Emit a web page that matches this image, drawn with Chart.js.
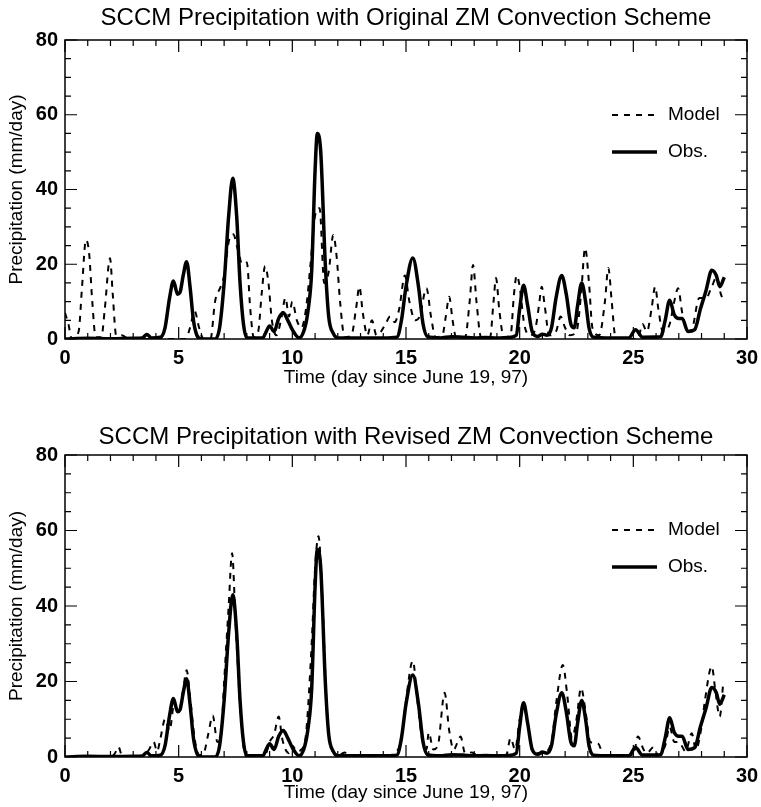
<!DOCTYPE html>
<html>
<head>
<meta charset="utf-8">
<script src="https://cdn.jsdelivr.net/npm/chart.js@4.4.1/dist/chart.umd.min.js"></script>
<style>
  html, body { margin: 0; padding: 0; background: #fff; }
  canvas { display: block; }
</style>
</head>
<body>
<canvas id="chartTop" width="761" height="400"></canvas>
<canvas id="chartBottom" width="761" height="407"></canvas>
<script>
// tick labels
const dayTicks = [0, 5, 10, 15, 20, 25, 30];
const precipTicks = [0, 20, 40, 60, 80];

// observed precipitation (same in both panels)
const obsDays = [0, 1, 2, 3, 3.4, 3.6, 3.8, 4.2, 4.4, 4.6, 4.77, 4.95, 5.06, 5.2, 5.35, 5.5, 5.65, 5.8, 6.0,
  6.6, 6.8, 7.0, 7.2, 7.38, 7.55, 7.7, 7.85, 8.0, 8.7, 8.85, 9.0, 9.2, 9.4, 9.6, 9.8, 10.0, 10.3,
  10.55, 10.7, 10.85, 11.0, 11.1, 11.25, 11.45, 11.6, 11.8, 12.0, 13, 14, 14.6, 14.8, 15.0, 15.3,
  15.55, 15.75, 15.95, 16.5, 17, 17.5, 18, 18.5, 19, 19.5, 19.85, 20.0, 20.17, 20.35, 20.55, 20.8,
  21.0, 21.2, 21.4, 21.6, 21.85, 22.05, 22.25, 22.4, 22.55, 22.73, 22.9, 23.05, 23.25, 24, 24.8,
  25.1, 25.4, 26.2, 26.4, 26.6, 26.8, 27.0, 27.15, 27.4, 27.7, 27.95, 28.2, 28.45, 28.65, 28.8, 29.0];
const obsPrecip = [0, 0.2, 0.1, 0.2, 0.3, 1.2, 0.3, 0.5, 3, 11, 15.5, 12, 12.5, 17, 20.7, 14, 5, 1, 0,
  0, 3, 15, 33, 43, 33, 15, 4, 0.3, 0.3, 2, 3.5, 2, 5.5, 7, 5, 2.5, 0.3,
  3, 8, 18, 45, 55, 50, 20, 6, 1.5, 0.3, 0.3, 0.3, 0.5, 5, 14, 21.7,
  14, 4, 0.6, 0.3, 0.6, 0.5, 0.3, 0.4, 0.3, 0.4, 1, 8, 14.4, 9, 2, 0.7,
  1.3, 1, 3, 11, 17, 12, 4, 3, 9, 15, 10, 3, 0.5, 0.3, 0.3,
  2.5, 0.5, 0.6, 5, 10.4, 6.5, 5.5, 5.5, 2, 2.5, 8, 13, 18.4, 17, 14, 16.5];

// model, original ZM scheme
const origDays = [0, 0.15, 0.3, 0.6, 0.75, 0.92, 1.06, 1.2, 1.35, 1.6, 1.75, 1.98, 2.1, 2.25, 2.5, 2.8, 4.0,
  5.3, 5.5, 5.7, 5.9, 6.1, 6.4, 6.6, 6.85, 7.0, 7.2, 7.4, 7.6, 7.8, 8.0, 8.15, 8.3, 8.5, 8.65, 8.8,
  8.95, 9.1, 9.3, 9.5, 9.7, 9.85, 10.0, 10.2, 10.4, 10.6, 10.8, 11.0, 11.2, 11.4, 11.6, 11.8, 11.95,
  12.1, 12.3, 12.6, 12.8, 12.95, 13.1, 13.3, 13.5, 13.7, 13.9, 14.1, 14.3, 14.5, 14.7, 14.95, 15.15,
  15.4, 15.6, 15.9, 16.1, 16.3, 16.6, 16.75, 16.9, 17.05, 17.2, 17.6, 17.8, 17.95, 18.1, 18.3, 18.7,
  18.85, 18.96, 19.1, 19.3, 19.6, 19.75, 19.87, 20.0, 20.2, 20.45, 20.7, 20.85, 20.97, 21.1, 21.3,
  21.6, 21.8, 22.0, 22.2, 22.5, 22.7, 22.88, 23.05, 23.2, 23.5, 23.75, 23.9, 24.05, 24.2, 24.5, 25.2,
  25.4, 25.6, 25.8, 25.96, 26.1, 26.3, 26.6, 26.8, 26.97, 27.15, 27.4, 27.6, 27.9, 28.2, 28.45, 28.67,
  28.85, 29.0];
const origPrecip = [7, 4, 0, 2, 14, 26.5, 23, 10, 0.5, 0.5, 8, 21.6, 12, 1, 1, 0, 0,
  0, 3, 7.5, 3, 0, 0, 10, 14, 17, 26, 28, 24, 20, 20.5, 8, 0.5, 2, 12, 19.5,
  15, 5, 1, 5, 11, 6, 10, 5, 3, 8, 20, 33, 35, 15, 18, 27.8, 22,
  10, 0.5, 1, 8, 14, 7, 1, 5, 1, 2, 4, 6, 4.5, 8, 17, 10,
  5, 6, 13.6, 6, 0.5, 1, 6, 11.3, 5, 0.5, 0.5, 10, 19.8, 10, 0.5, 0.5,
  10, 16.3, 8, 0.5, 1, 12, 17, 14, 4, 1, 3, 9, 14, 9, 1,
  2, 6, 3, 1, 2, 12, 24.3, 15, 3, 1, 10, 19, 10, 1, 0, 0,
  4, 2, 8, 14, 8, 2, 4, 10, 13.6, 7, 2, 3, 11, 11, 14, 16.6,
  12, 10];

// model, revised ZM scheme
const revDays = [0, 1, 2.0, 2.2, 2.35, 2.5, 3.0, 3.5, 3.7, 3.9, 4.05, 4.2, 4.4, 4.6, 4.8, 5.0, 5.2, 5.35,
  5.5, 5.7, 5.9, 6.1, 6.3, 6.5, 6.7, 6.85, 7.0, 7.2, 7.35, 7.5, 7.7, 7.85, 8.0, 8.8, 9.0, 9.2, 9.4,
  9.55, 9.7, 9.85, 10.0, 10.2, 10.4, 10.6, 10.85, 11.0, 11.15, 11.3, 11.5, 11.65, 11.85, 12.0, 12.3,
  12.5, 13, 14, 14.5, 14.8, 15.0, 15.3, 15.5, 15.7, 15.9, 16.0, 16.2, 16.4, 16.7, 16.9, 17.1, 17.4,
  17.6, 17.9, 18.2, 19.4, 19.6, 19.8, 20.0, 20.17, 20.35, 20.6, 21.0, 21.4, 21.6, 21.9, 22.1, 22.3,
  22.5, 22.7, 22.9, 23.1, 23.45, 23.7, 25.0, 25.2, 25.45, 25.6, 25.87, 26.1, 26.4, 26.6, 26.8, 27.0,
  27.3, 27.57, 27.75, 28.0, 28.15, 28.45, 28.6, 28.8, 28.96];
const revPrecip = [0, 0.3, 0, 1, 2.7, 0.5, 0, 0.5, 2, 4, 1.5, 5, 10, 7, 14, 12, 18, 23,
  16, 5, 0.5, 1, 6, 11, 4, 5, 20, 40, 54, 36, 14, 3, 0, 0.5, 4, 6, 10.7,
  5, 2, 1, 3, 1.5, 2, 6, 30, 50, 58.5, 45, 15, 4, 1, 0.3, 1.2,
  0.2, 0.3, 0.3, 1, 5, 15, 25.5, 15, 5, 2, 6.5, 2, 3, 17, 7, 2, 5.4,
  1, 1.2, 0.2, 0.3, 5, 2, 10, 14, 9, 1, 1, 4, 14, 24.4, 16, 5,
  10, 18.3, 12, 4, 3.5, 0.5, 0.5, 5.4, 2, 1, 2.5, 0.5, 3, 8, 4, 4,
  1.5, 6.3, 2, 8, 15, 24, 18, 10.7, 20];

const pts = (xs, ys) => xs.map((d, i) => ({ x: d, y: ys[i] }));
const FONT = '"Liberation Sans", Arial, Helvetica, sans-serif';

// box, inward major/minor ticks on all four sides
const frameTicks = {
  id: 'frameTicks',
  afterDatasetsDraw(chart) {
    const { ctx, chartArea: a, scales: { x, y } } = chart;
    ctx.save();
    ctx.strokeStyle = '#000';
    ctx.lineWidth = 1.5;
    ctx.strokeRect(a.left, a.top, a.right - a.left, a.bottom - a.top);
    ctx.lineWidth = 1.2;
    ctx.beginPath();
    for (let d = 0; d <= 30; d++) {
      const px = x.getPixelForValue(d);
      const len = d % 5 === 0 ? 12 : 6;
      ctx.moveTo(px, a.bottom); ctx.lineTo(px, a.bottom - len);
      ctx.moveTo(px, a.top); ctx.lineTo(px, a.top + len);
    }
    for (let v = 0; v <= 80; v += 5) {
      const py = y.getPixelForValue(v);
      const len = v % 20 === 0 ? 12 : 6;
      ctx.moveTo(a.left, py); ctx.lineTo(a.left + len, py);
      ctx.moveTo(a.right, py); ctx.lineTo(a.right - len, py);
    }
    ctx.stroke();
    ctx.restore();
  }
};

// title centred over the plot area
const panelTitle = {
  id: 'panelTitle',
  afterDraw(chart, args, opts) {
    const { ctx, chartArea: a } = chart;
    ctx.save();
    ctx.fillStyle = '#000';
    ctx.font = '24px ' + FONT;
    ctx.textAlign = 'center';
    ctx.textBaseline = 'middle';
    ctx.fillText(opts.text, (a.left + a.right) / 2, a.top - opts.gap);
    ctx.restore();
  }
};

// legend inside the plot, upper right
const insideLegend = {
  id: 'insideLegend',
  afterDraw(chart) {
    const { ctx, chartArea: a } = chart;
    const rows = [chart.data.datasets[1], chart.data.datasets[0]];
    ctx.save();
    rows.forEach((ds, i) => {
      const yy = a.top + 75 + i * 37;
      ctx.strokeStyle = '#000';
      ctx.lineWidth = ds.borderWidth;
      ctx.setLineDash(ds.borderDash || []);
      ctx.beginPath();
      ctx.moveTo(a.right - 135, yy);
      ctx.lineTo(a.right - 90, yy);
      ctx.stroke();
      ctx.setLineDash([]);
      ctx.fillStyle = '#000';
      ctx.font = '19px ' + FONT;
      ctx.textAlign = 'left';
      ctx.textBaseline = 'middle';
      ctx.fillText(ds.label, a.right - 79, yy);
    });
    ctx.restore();
  }
};

function makePanel(id, title, modelDays, modelPrecip, lay) {
  new Chart(document.getElementById(id), {
    type: 'line',
    data: {
      datasets: [
        {
          label: 'Obs.',
          data: pts(obsDays, obsPrecip),
          borderColor: '#000',
          borderWidth: 3.5,
          pointRadius: 0,
          cubicInterpolationMode: 'monotone',
          order: 0
        },
        {
          label: 'Model',
          data: pts(modelDays, modelPrecip),
          borderColor: '#000',
          borderWidth: 2,
          borderDash: [6, 6],
          pointRadius: 0,
          cubicInterpolationMode: 'monotone',
          order: 1
        }
      ]
    },
    options: {
      responsive: false,
      animation: false,
      layout: { padding: { top: lay.top, right: 14, bottom: 0, left: 0 } },
      plugins: {
        legend: { display: false },
        tooltip: { enabled: false },
        panelTitle: { text: title, gap: lay.titleGap }
      },
      scales: {
        x: {
          type: 'linear',
          min: 0,
          max: 30,
          afterBuildTicks: s => { s.ticks = dayTicks.map(v => ({ value: v })); },
          afterFit: s => { s.height = lay.xHeight; s.paddingLeft = 0; s.paddingRight = 0; },
          grid: { display: false, drawTicks: false },
          border: { display: false },
          ticks: { color: '#000', padding: 7, font: { family: FONT, size: 20, weight: 'bold' } },
          title: {
            display: true,
            text: 'Time (day since June 19, 97)',
            color: '#000',
            font: { family: FONT, size: 19 },
            padding: { top: 0, bottom: lay.xTitlePad }
          }
        },
        y: {
          min: 0,
          max: 80,
          afterBuildTicks: s => { s.ticks = precipTicks.map(v => ({ value: v })); },
          afterFit: s => { s.width = 65; s.paddingTop = 0; s.paddingBottom = 0; },
          grid: { display: false, drawTicks: false },
          border: { display: false },
          ticks: { color: '#000', padding: 7, font: { family: FONT, size: 20, weight: 'bold' } },
          title: {
            display: true,
            text: 'Precipitation (mm/day)',
            color: '#000',
            font: { family: FONT, size: 19 },
            padding: { top: 5, bottom: 0 }
          }
        }
      }
    },
    plugins: [frameTicks, panelTitle, insideLegend]
  });
}

makePanel('chartTop', 'SCCM Precipitation with Original ZM Convection Scheme',
  origDays, origPrecip, { top: 40, titleGap: 22, xHeight: 61, xTitlePad: 10.6 });
makePanel('chartBottom', 'SCCM Precipitation with Revised ZM Convection Scheme',
  revDays, revPrecip, { top: 55, titleGap: 18, xHeight: 50, xTitlePad: 2.6 });
</script>
</body>
</html>
